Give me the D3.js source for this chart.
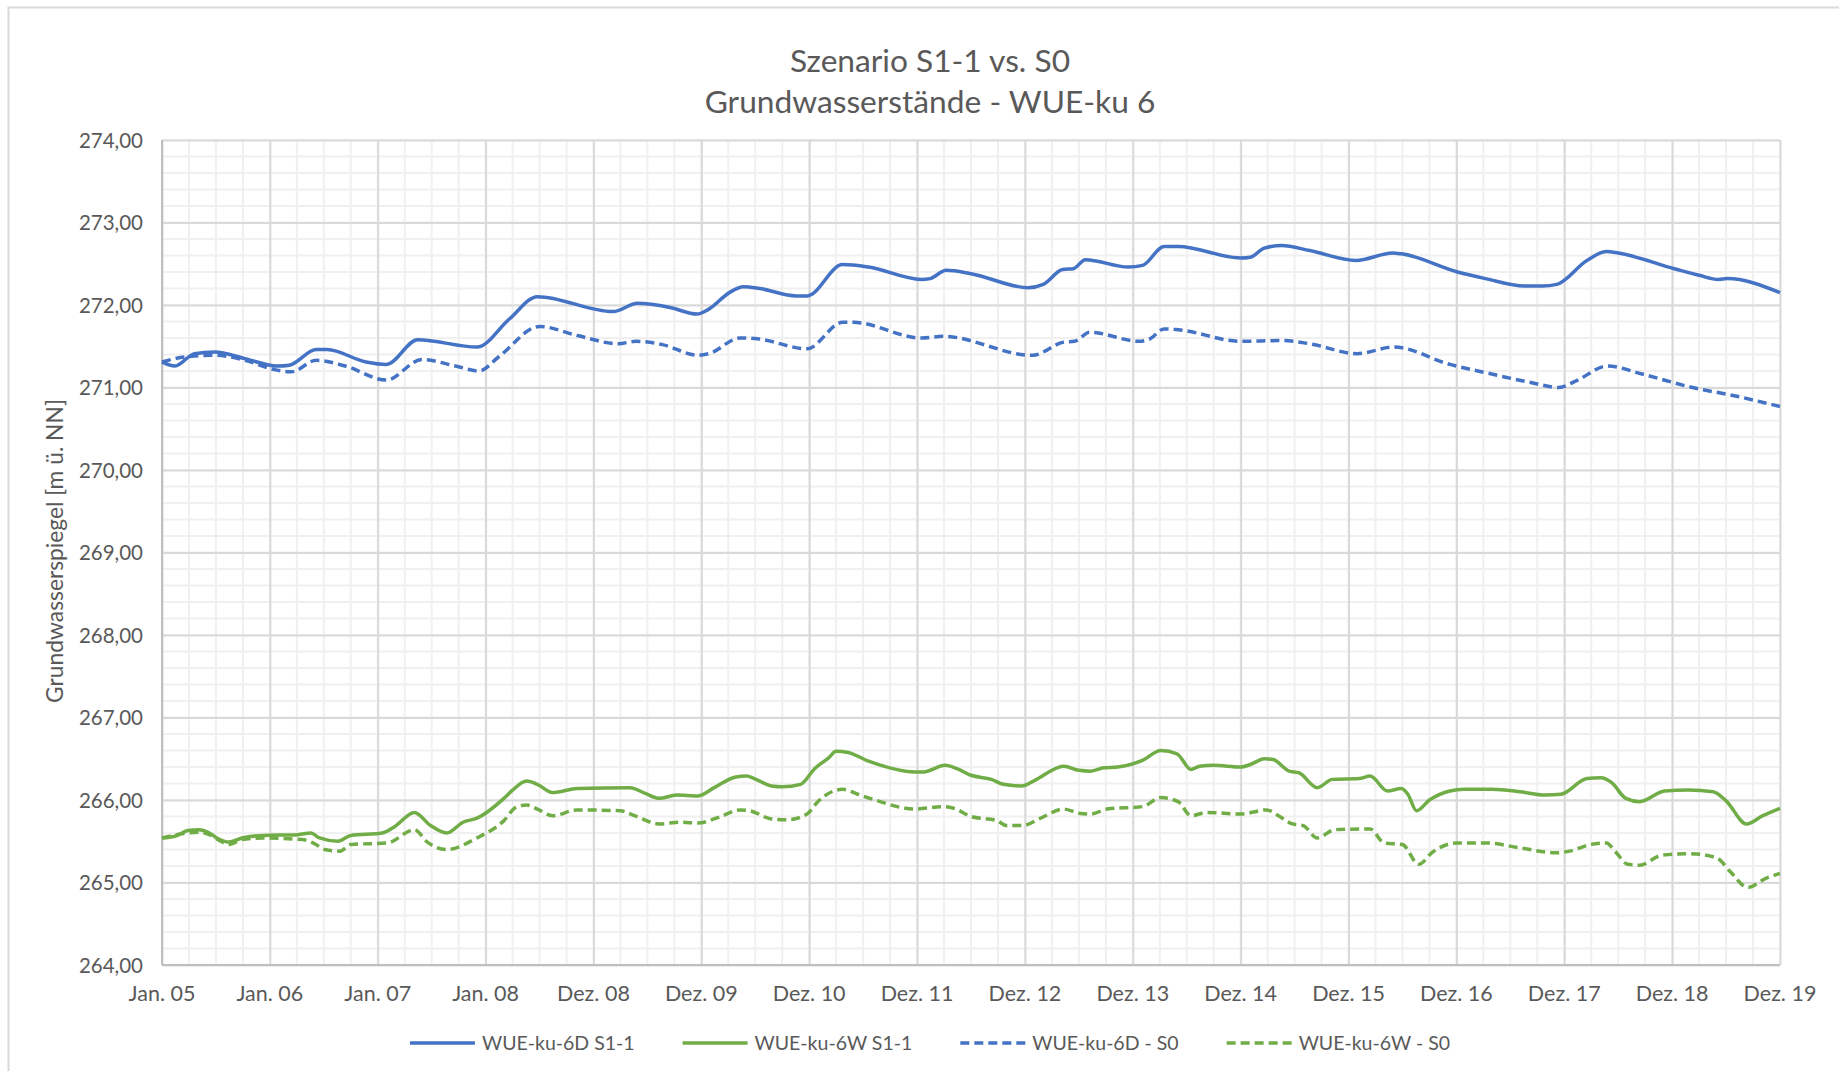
<!DOCTYPE html>
<html>
<head>
<meta charset="utf-8">
<script src="https://cdnjs.cloudflare.com/ajax/libs/d3/7.8.5/d3.min.js"></script>
<style>
  body { margin: 0; background: #fff; }
  text { font-family: Lato, "Open Sans", sans-serif; fill: #595959; }
</style>
</head>
<body>
<div id="my_dataviz"></div>
<script>

// tick labels of the category axis (one per year)
var xLabels = ["Jan. 05", "Jan. 06", "Jan. 07", "Jan. 08", "Dez. 08", "Dez. 09", "Dez. 10", "Dez. 11",
               "Dez. 12", "Dez. 13", "Dez. 14", "Dez. 15", "Dez. 16", "Dez. 17", "Dez. 18", "Dez. 19"];
var yTicks = [264, 265, 266, 267, 268, 269, 270, 271, 272, 273, 274];

var seriesNames = ["WUE-ku-6D S1-1", "WUE-ku-6W S1-1", "WUE-ku-6D - S0", "WUE-ku-6W - S0"];

// [years since Jan. 05, groundwater level]
var wue6D_S11 = [[0,271.31],[0.12,271.26],[0.30,271.41],[0.49,271.43],[0.77,271.35],[1.07,271.26],[1.18,271.27],
  [1.43,271.46],[1.53,271.46],[1.89,271.31],[2.08,271.28],[2.37,271.58],[2.92,271.49],[3.22,271.83],[3.48,272.10],
  [4.18,271.92],[4.41,272.02],[4.71,271.97],[4.96,271.89],[5.07,271.95],[5.26,272.15],[5.39,272.22],[5.54,272.20],
  [5.88,272.11],[5.98,272.11],[6.31,272.49],[6.55,272.46],[7.04,272.31],[7.12,272.32],[7.27,272.42],[7.50,272.38],
  [8.03,272.21],[8.17,272.25],[8.35,272.43],[8.45,272.44],[8.56,272.55],[8.96,272.46],[9.09,272.48],[9.29,272.71],
  [9.42,272.71],[10.0,272.57],[10.09,272.58],[10.22,272.69],[10.38,272.72],[10.64,272.66],[11.07,272.54],
  [11.41,272.63],[11.49,272.62],[12.01,272.40],[12.27,272.32],[12.63,272.23],[12.80,272.23],[12.93,272.25],
  [13.21,272.54],[13.39,272.65],[13.50,272.63],[14.02,272.44],[14.25,272.36],[14.43,272.31],[14.51,272.32],[15.0,272.15]];

var wue6W_S11 = [[0,265.54],[0.12,265.56],[0.24,265.63],[0.34,265.64],[0.44,265.60],[0.52,265.53],[0.62,265.49],
  [0.74,265.54],[0.93,265.57],[1.26,265.58],[1.38,265.60],[1.46,265.54],[1.63,265.50],[1.75,265.57],[2.04,265.60],
  [2.16,265.68],[2.34,265.85],[2.49,265.69],[2.64,265.60],[2.79,265.73],[2.92,265.78],[3.17,266.02],[3.25,266.12],
  [3.38,266.23],[3.48,266.19],[3.62,266.09],[3.85,266.14],[4.34,266.15],[4.48,266.08],[4.61,266.02],[4.77,266.06],
  [4.97,266.05],[5.12,266.15],[5.32,266.28],[5.42,266.29],[5.49,266.26],[5.65,266.17],[5.75,266.16],[5.92,266.19],
  [6.05,266.38],[6.18,266.51],[6.25,266.59],[6.35,266.58],[6.55,266.47],[6.98,266.34],[7.06,266.34],[7.26,266.42],
  [7.37,266.38],[7.50,266.30],[7.69,266.25],[7.80,266.19],[7.97,266.17],[8.08,266.23],[8.36,266.41],[8.50,266.36],
  [8.61,266.35],[8.73,266.39],[8.86,266.40],[9.09,266.48],[9.26,266.60],[9.41,266.56],[9.54,266.37],[9.62,266.41],
  [9.75,266.42],[10.0,266.40],[10.09,266.43],[10.22,266.50],[10.30,266.49],[10.45,266.35],[10.54,266.33],
  [10.71,266.15],[10.85,266.25],[11.10,266.26],[11.20,266.29],[11.36,266.11],[11.49,266.14],[11.55,266.07],
  [11.63,265.87],[11.75,266.00],[11.94,266.11],[12.07,266.13],[12.33,266.13],[12.59,266.10],[12.82,266.06],
  [12.97,266.07],[13.21,266.26],[13.34,266.27],[13.44,266.21],[13.57,266.02],[13.70,265.98],[13.93,266.11],
  [14.15,266.12],[14.38,266.10],[14.50,265.99],[14.69,265.71],[14.84,265.81],[15.0,265.90]];

var wue6D_S0 = [[0,271.31],[0.21,271.37],[0.49,271.39],[0.77,271.33],[1.03,271.22],[1.20,271.19],[1.43,271.33],
  [1.70,271.26],[2.08,271.09],[2.41,271.34],[2.72,271.26],[2.94,271.20],[3.12,271.37],[3.50,271.74],[3.85,271.63],
  [4.23,271.53],[4.39,271.56],[4.64,271.52],[4.97,271.39],[5.07,271.41],[5.36,271.60],[5.52,271.59],[5.98,271.47],
  [6.31,271.79],[6.41,271.79],[7.04,271.60],[7.24,271.62],[8.07,271.39],[8.36,271.55],[8.46,271.56],[8.60,271.67],
  [9.06,271.56],[9.16,271.59],[9.29,271.71],[9.42,271.70],[10.0,271.56],[10.38,271.57],[10.64,271.53],[11.08,271.41],
  [11.42,271.49],[11.94,271.28],[12.27,271.18],[12.69,271.06],[12.95,271.00],[13.11,271.08],[13.40,271.26],
  [13.73,271.16],[14.22,270.99],[14.54,270.91],[15.0,270.77]];

var wue6W_S0 = [[0,265.54],[0.34,265.61],[0.44,265.58],[0.52,265.52],[0.62,265.46],[0.74,265.52],[0.93,265.54],
  [1.30,265.52],[1.40,265.48],[1.51,265.40],[1.65,265.38],[1.75,265.46],[2.09,265.48],[2.34,265.64],[2.46,265.49],
  [2.64,265.40],[2.92,265.54],[3.17,265.75],[3.28,265.91],[3.38,265.94],[3.48,265.89],[3.62,265.81],[3.85,265.88],
  [4.25,265.87],[4.38,265.81],[4.61,265.71],[4.81,265.73],[4.97,265.72],[5.16,265.79],[5.36,265.88],[5.45,265.87],
  [5.65,265.77],[5.79,265.76],[5.98,265.83],[6.08,265.98],[6.31,266.13],[6.45,266.07],[6.61,266.00],[6.98,265.89],
  [7.24,265.92],[7.34,265.90],[7.50,265.80],[7.74,265.75],[7.83,265.69],[7.98,265.69],[8.13,265.77],[8.36,265.89],
  [8.50,265.84],[8.61,265.83],[8.76,265.89],[9.09,265.92],[9.26,266.03],[9.42,265.98],[9.54,265.81],[9.69,265.85],
  [10.0,265.83],[10.24,265.88],[10.35,265.81],[10.48,265.71],[10.58,265.69],[10.71,265.54],[10.87,265.64],
  [11.20,265.65],[11.33,265.48],[11.50,265.46],[11.65,265.22],[11.78,265.37],[12.01,265.48],[12.27,265.48],
  [12.59,265.42],[12.92,265.36],[13.05,265.38],[13.24,265.46],[13.39,265.48],[13.47,265.38],[13.59,265.22],
  [13.70,265.21],[13.90,265.33],[14.15,265.35],[14.41,265.30],[14.54,265.13],[14.70,264.94],[14.87,265.05],[15.0,265.11]];

// set the dimensions and margins of the graph
var W = 1839, H = 1071;
var margin = {top: 140, right: 59, bottom: 106, left: 162},
    width = W - margin.left - margin.right,
    height = H - margin.top - margin.bottom;

var svg0 = d3.select("#my_dataviz")
  .append("svg")
    .attr("width", W)
    .attr("height", H);

// chart area border
svg0.append("rect")
  .attr("x", 8.5).attr("y", 7.5)
  .attr("width", W).attr("height", H)
  .attr("fill", "#fff")
  .attr("stroke", "#d9d9d9")
  .attr("stroke-width", 2);

var svg = svg0.append("g")
  .attr("transform", "translate(" + margin.left + "," + margin.top + ")");

var x = d3.scaleLinear().domain([0, xLabels.length - 1]).range([0, width]);
var y = d3.scaleLinear().domain([264, 274]).range([height, 0]);

var de = d3.formatLocale({decimal: ",", thousands: ".", grouping: [3], currency: ["", " €"]});
var fmt = de.format(".2f");

// minor gridlines
svg.append("g")
  .selectAll("line")
  .data(d3.range(0, (xLabels.length - 1) * 4 + 1).map(function(i) { return i / 4; }))
  .enter().append("line")
    .attr("x1", function(d) { return x(d); }).attr("x2", function(d) { return x(d); })
    .attr("y1", 0).attr("y2", height)
    .attr("stroke", "#f0f0f0").attr("stroke-width", 2);
svg.append("g")
  .selectAll("line")
  .data(d3.range(0, 51).map(function(i) { return 264 + i * 0.2; }))
  .enter().append("line")
    .attr("x1", 0).attr("x2", width)
    .attr("y1", function(d) { return y(d); }).attr("y2", function(d) { return y(d); })
    .attr("stroke", "#f0f0f0").attr("stroke-width", 2);

// major gridlines
svg.append("g")
  .attr("transform", "translate(0," + height + ")")
  .call(d3.axisBottom(x).tickValues(d3.range(xLabels.length)).tickSize(-height).tickFormat(""))
  .call(function(g) { g.select(".domain").remove(); })
  .call(function(g) { g.selectAll("line").attr("stroke", "#d9d9d9").attr("stroke-width", 2); });
svg.append("g")
  .call(d3.axisLeft(y).tickValues(yTicks).tickSize(-width).tickFormat(""))
  .call(function(g) { g.select(".domain").remove(); })
  .call(function(g) { g.selectAll("line").attr("stroke", "#d9d9d9").attr("stroke-width", 2); });

// axis lines
svg.append("line").attr("x1", 0).attr("x2", 0).attr("y1", 0).attr("y2", height)
  .attr("stroke", "#bfbfbf").attr("stroke-width", 2);
svg.append("line").attr("x1", 0).attr("x2", width).attr("y1", height).attr("y2", height)
  .attr("stroke", "#bfbfbf").attr("stroke-width", 2);

// tick labels
svg.append("g")
  .selectAll("text")
  .data(yTicks)
  .enter().append("text")
    .attr("x", -19)
    .attr("y", function(d) { return y(d) + 7.5; })
    .style("text-anchor", "end")
    .style("font-size", "20.5px")
    .text(function(d) { return fmt(d); });
svg.append("g")
  .selectAll("text")
  .data(xLabels)
  .enter().append("text")
    .attr("x", function(d, i) { return x(i); })
    .attr("y", height + 35.5)
    .style("text-anchor", "middle")
    .style("font-size", "21.5px")
    .text(function(d) { return d; });

// y axis title
svg0.append("text")
  .attr("transform", "translate(63,551) rotate(-90)")
  .style("text-anchor", "middle")
  .style("font-size", "22.8px")
  .text("Grundwasserspiegel [m ü. NN]");

// chart title
svg0.append("text").attr("x", 930).attr("y", 72)
  .style("text-anchor", "middle").style("font-size", "31.7px")
  .text("Szenario S1-1 vs. S0");
svg0.append("text").attr("x", 930).attr("y", 113)
  .style("text-anchor", "middle").style("font-size", "31.7px")
  .text("Grundwasserstände - WUE-ku 6");

// the lines
var series = [
  {name: seriesNames[0], data: wue6D_S11, color: "#4472c4", dash: null},
  {name: seriesNames[1], data: wue6W_S11, color: "#70ad47", dash: null},
  {name: seriesNames[2], data: wue6D_S0, color: "#4472c4", dash: "9,5"},
  {name: seriesNames[3], data: wue6W_S0, color: "#70ad47", dash: "9,5"}
];

var line = d3.line()
  .curve(d3.curveMonotoneX)
  .x(function(d) { return x(d[0]); })
  .y(function(d) { return y(d[1]); });

// draw dashed ones first so solid lines sit on top
[2, 3, 0, 1].forEach(function(i) {
  var s = series[i];
  svg.append("path")
    .datum(s.data)
    .attr("fill", "none")
    .attr("stroke", s.color)
    .attr("stroke-width", 3.5)
    .attr("stroke-linejoin", "round")
    .attr("stroke-dasharray", s.dash)
    .attr("d", line);
});

// legend
var leg = svg0.append("g");
var items = leg.selectAll("g")
  .data(series)
  .enter().append("g");
items.append("line")
  .attr("x1", 0).attr("x2", 65).attr("y1", 0).attr("y2", 0)
  .attr("stroke", function(d) { return d.color; })
  .attr("stroke-width", 3.5)
  .attr("stroke-dasharray", function(d) { return d.dash; });
items.append("text")
  .attr("x", 72).attr("y", 7)
  .style("font-size", "19.5px")
  .text(function(d) { return d.name; });

var pos = 0, offsets = [];
items.each(function(d) {
  offsets.push(pos);
  pos += this.getBBox().width + 48;
});
var total = pos - 48;
var start = 930 - total / 2;
items.attr("transform", function(d, i) { return "translate(" + (start + offsets[i]) + ",1043)"; });

</script>
</body>
</html>
